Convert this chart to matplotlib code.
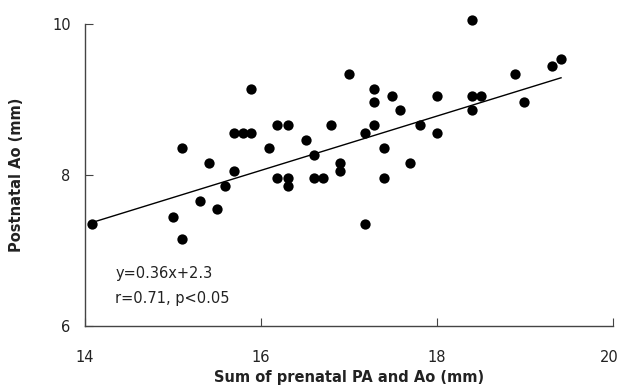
import numpy as np
import matplotlib
matplotlib.use("Agg")
import matplotlib.pyplot as plt
import matplotlib.transforms as mtransforms

# Data
prenatal_sum = [14.08, 15.01, 15.11, 15.11, 15.31, 15.41, 15.50, 15.60, 15.70, 15.70,
                15.80, 15.89, 15.89, 16.09, 16.19, 16.19, 16.31, 16.31, 16.31, 16.51,
                16.61, 16.61, 16.71, 16.80, 16.90, 16.90, 17.00, 17.19, 17.19, 17.29,
                17.29, 17.29, 17.40, 17.40, 17.49, 17.58, 17.69, 17.81, 18.00, 18.00,
                18.40, 18.40, 18.40, 18.50, 18.89, 18.99, 19.31, 19.41]
postnatal_ao = [7.355, 7.444, 7.148, 8.36, 7.656, 8.155, 7.55, 7.855, 8.053, 8.56,
                8.56, 8.56, 9.135, 8.36, 8.66, 7.956, 8.66, 7.956, 7.855, 8.46,
                8.26, 7.956, 7.956, 8.66, 8.163, 8.057, 9.34, 8.56, 7.347, 9.135,
                8.967, 8.66, 8.36, 7.956, 9.04, 8.86, 8.155, 8.66, 9.04, 8.56,
                10.05, 9.04, 8.86, 9.04, 9.34, 8.967, 9.44, 9.54]

fit_slope = 0.36
fit_intercept = 2.3
x_ticks = [14, 16, 18, 20]
y_ticks = [6, 8, 10]
annotation = ["y=0.36x+2.3", "r=0.71, p<0.05"]

plt.rcParams['font.family'] = ['DejaVu Sans']

fig = plt.figure(figsize=(6.18, 3.90), dpi=100)
ax = fig.add_axes([84.5 / 618, 1 - 326 / 390, (613 - 84.5) / 618, (326 - 24) / 390])

x = np.array(prenatal_sum)
y = np.array(postnatal_ao)
ax.scatter(x, y, s=55, color='black', zorder=3, linewidths=0, clip_on=False)

xl = np.array([x.min(), x.max()])
ax.plot(xl, fit_slope * xl + fit_intercept, color='black', lw=1.0, zorder=2)

ax.set_xlim(14, 20)
ax.set_ylim(6, 10)
ax.set_xticks(x_ticks)
ax.set_yticks(y_ticks)
ax.set_xticklabels([str(t) for t in x_ticks])
ax.set_yticklabels([str(t) for t in y_ticks])

for s in ['top', 'right']:
    ax.spines[s].set_visible(False)
for s in ['left', 'bottom']:
    ax.spines[s].set_color('#444444')
    ax.spines[s].set_linewidth(1.0)

ax.tick_params(axis='x', direction='in', length=6, pad=17, labelsize=10.5,
               color='#444444', labelcolor='#222222')
ax.tick_params(axis='y', direction='in', length=6, pad=10, labelsize=10.5,
               color='#444444', labelcolor='#222222')

# keep the last x tick label inside the figure, as in the reference
last = ax.get_xticklabels()[-1]
last.set_transform(last.get_transform() +
                   mtransforms.ScaledTranslation(-4 / 100, 0, fig.dpi_scale_trans))

ax.set_xlabel("Sum of prenatal PA and Ao (mm)", fontsize=10.5, fontweight='bold',
              labelpad=4, color='#222222')
ax.set_ylabel("Postnatal Ao (mm)", fontsize=10.5, fontweight='bold',
              labelpad=20, color='#222222')

ax.text(14.35, 6.7, annotation[0], fontsize=10.5, color='#222222', va='center')
ax.text(14.35, 6.37, annotation[1], fontsize=10.5, color='#222222', va='center')

fig.savefig("out.png", dpi=100)
